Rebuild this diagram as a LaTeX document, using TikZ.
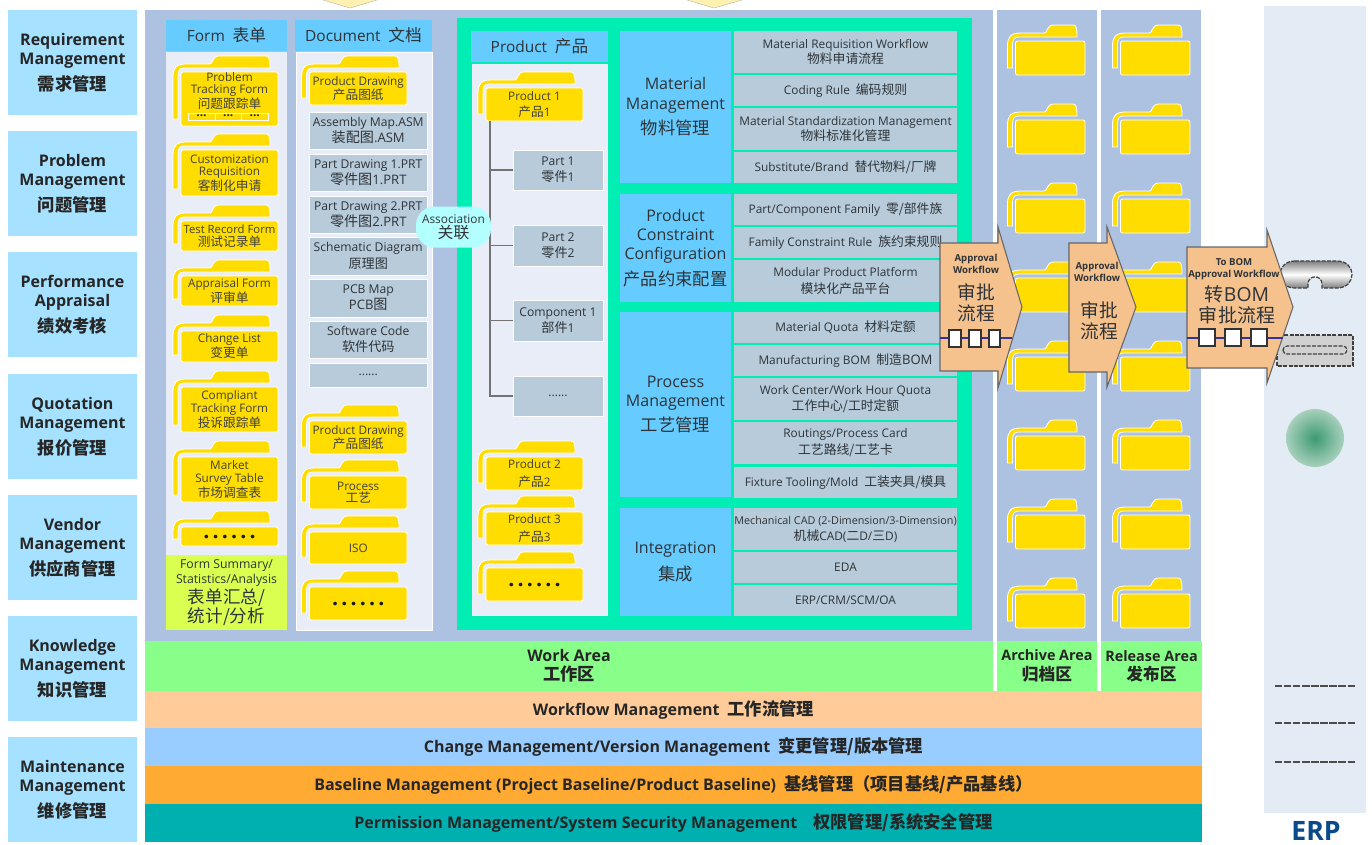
\documentclass[tikz,border=0pt]{standalone}
\usepackage{fontspec}
\setmainfont{Open Sans}
\newfontfamily\cjk[Scale=1.08]{Noto Sans CJK SC}
\newcommand{\zh}[1]{{\cjk #1}}
\newcommand{\fsz}[2]{\fontsize{#1}{#2}\selectfont}
\definecolor{sidec}{HTML}{A6E1FF}
\definecolor{panelc}{HTML}{ADC1E1}
\definecolor{lightc}{HTML}{E8EDF7}
\definecolor{headc}{HTML}{66CCFF}
\definecolor{greenf}{HTML}{00EEB4}
\definecolor{itemc}{HTML}{B7CBDA}
\definecolor{foldc}{HTML}{FFDD00}
\definecolor{limec}{HTML}{D9FF50}
\definecolor{workc}{HTML}{88FF88}
\definecolor{peachc}{HTML}{FFCC99}
\definecolor{bluec}{HTML}{99CCFF}
\definecolor{orangec}{HTML}{FFAA33}
\definecolor{tealc}{HTML}{00AFAF}
\definecolor{arrowc}{HTML}{F5C28E}
\definecolor{erpc}{HTML}{E3EBF5}
\definecolor{txt}{HTML}{2E3338}
\definecolor{tipc}{HTML}{FFF2B0}
\definecolor{assoc}{HTML}{B3FFFF}
\tikzset{
  bxbase/.style={inner sep=0pt,outer sep=0pt,align=center,text=txt},
  sidebox/.style={bxbase,fill=sidec,font=\fsz{12}{14.3}\bfseries,text=black!85},
  headbox/.style={bxbase,fill=headc,font=\fsz{11.6}{14}},
  grayitem/.style={bxbase,fill=itemc,font=\fsz{8.9}{10.6}},
  docitem/.style={bxbase,fill=itemc,draw=white,line width=.4pt,font=\fsz{9.1}{12.2}},
  catbox/.style={bxbase,fill=headc,font=\fsz{12}{14.3}},
  lane/.style={bxbase,font=\fsz{12}{14.4}\bfseries,text=black!85},
  arealane/.style={bxbase,fill=workc,font=\fsz{10.8}{14.4}\bfseries,text=black!85},
  panel/.style={bxbase,fill=panelc},
  pale/.style={bxbase,fill=lightc,draw=white,line width=.4pt},
  folderfront/.style={bxbase,fill=foldc,draw=white,line width=.6pt,rounded corners=1.5pt,font=\fsz{8.8}{9.4},text=black!75},
  folderback/.style={fill=foldc,draw=white,line width=.6pt},
  flow/.style={fill=arrowc,draw=black!60,line width=.8pt},
  stepcell/.style={bxbase,fill=white,draw=black!80,line width=.8pt},
  flowline/.style={draw=blue!50!black!80,line width=.8pt},
  treeline/.style={draw=black!55,line width=1.1pt},
  minicell/.style={bxbase,fill=foldc,draw=white,line width=.6pt,font=\fsz{9}{8}\bfseries,text=black!85},
}
\newcommand{\bx}[7]{\node[#1,minimum width={(#5-#3)*0.75pt},minimum height={(#6-#4)*0.75pt}] (#2) at ({(#3+#5)/2},{(#4+#6)/2}) {#7};}
\newcommand{\folder}[6]{%
  \draw[folderback] ({#2-8},{#5-7}) -- ({#2-8},{#3+5}) .. controls ({#2-8},{#3-4}) and ({#2-5},{#3-8}) .. ({#2+5},{#3-8}) -- ({#2+29},{#3-8}) .. controls ({#2+32},{#3-8}) and ({#2+31},{#3-16}) .. ({#2+38},{#3-16}) -- ({#4-12},{#3-16}) .. controls ({#4-9},{#3-16}) and ({#4-8},{#3-14}) .. ({#4-8},{#3-4}) -- ({#2+3},{#3-4}) .. controls ({#2-2},{#3-4}) and ({#2-3},{#3-1}) .. ({#2-3},{#3+5}) -- ({#2-3},{#5-7}) -- cycle;
  \bx{folderfront}{#1}{#2}{#3}{#4}{#5}{#6}}
\newcommand{\bigdots}{{\fsz{16}{15}\bfseries\color{black!90}.\kern2.4pt.\kern2.4pt.\kern2.4pt.\kern2.4pt.\kern2.4pt.}}
\begin{document}
\begin{tikzpicture}[x=0.75pt,y=-0.75pt]
\useasboundingbox (0,0) rectangle (1372,844);
% arrow tips at the top
\draw[fill=tipc,draw=black!25,line width=.4pt] (323,0) -- (350,8) -- (377,0);
\draw[fill=tipc,draw=black!25,line width=.4pt] (687,0) -- (714,8) -- (742,0);
% left column
\bx{sidebox}{s1}{8}{10}{137}{115}{Requirement\\Management\\[5pt]\zh{需求管理}}
\bx{sidebox}{s2}{8}{131}{137}{236}{Problem\\Management\\[5pt]\zh{问题管理}}
\bx{sidebox}{s3}{8}{252}{137}{357}{Performance\\Appraisal\\[5pt]\zh{绩效考核}}
\bx{sidebox}{s4}{8}{374}{137}{479}{Quotation\\Management\\[5pt]\zh{报价管理}}
\bx{sidebox}{s5}{8}{495}{137}{600}{Vendor\\Management\\[5pt]\zh{供应商管理}}
\bx{sidebox}{s6}{8}{616}{137}{721}{Knowledge\\Management\\[5pt]\zh{知识管理}}
\bx{sidebox}{s7}{8}{737}{137}{842}{Maintenance\\Management\\[5pt]\zh{维修管理}}
% area panels
\bx{panel}{pw}{145}{10}{993}{641}{}
\bx{panel}{pa}{997}{10}{1097}{641}{}
\bx{panel}{pr}{1101}{10}{1201}{641}{}
% lanes
\bx{lane,fill=workc}{lw}{145}{641}{993}{691}{Work Area\\\zh{工作区}}
\bx{arealane}{la}{997}{641}{1097}{691}{Archive Area\\\fsz{11.6}{14.4}\zh{归档区}}
\bx{arealane}{lr}{1101}{641}{1202}{691}{Release Area\\\fsz{11.6}{14.4}\zh{发布区}}
\bx{lane,fill=peachc}{l1}{145}{691}{1202}{728}{Workflow Management\enspace\zh{工作流管理}}
\bx{lane,fill=bluec}{l2}{145}{728}{1202}{766}{Change Management/Version Management\enspace\zh{变更管理/版本管理}}
\bx{lane,fill=orangec}{l3}{145}{766}{1202}{804}{Baseline Management (Project Baseline/Product Baseline)\enspace\zh{基线管理（项目基线/产品基线）}}
\bx{lane,fill=tealc}{l4}{145}{804}{1202}{842}{Permission Management/System Security Management\quad\zh{权限管理/系统安全管理}}
% Form column
\bx{headbox}{hf}{166}{20}{287}{51}{Form\enspace\zh{表单}}
\bx{bxbase,fill=lightc}{cf}{166}{52}{287}{555}{}
\bx{bxbase,fill=limec,font=\fsz{9.2}{11.2}}{fsum}{166}{555}{287}{630}{Form Summary/\\Statistics/Analysis\\[1pt]\fsz{12.2}{15.5}\zh{表单汇总/}\\\fsz{12.2}{15.5}\zh{统计/分析}}
\folder{f1}{181}{72}{278}{126}{}
\node[bxbase,font=\fsz{8.8}{9.1},text=black!75] (f1t) at (229.5,91) {Problem\\Tracking Form\\[.5pt]\zh{问题跟踪单}};
\bx{minicell}{m1}{188}{113.5}{215}{120}{\raisebox{1.5pt}{...}}
\bx{minicell}{m2}{215}{113.5}{241.5}{120}{\raisebox{1.5pt}{...}}
\bx{minicell}{m3}{241.5}{113.5}{268}{120}{\raisebox{1.5pt}{...}}
\folder{f2}{181}{150}{278}{196}{Customization\\Requisition\\\zh{客制化申请}}
\folder{f3}{181}{221}{278}{251}{{\fsz{8.5}{9.4}Test Record Form}\\\zh{测试记录单}}
\folder{f4}{181}{276}{278}{306}{Appraisal Form\\\zh{评审单}}
\folder{f5}{181}{331}{278}{362}{Change List\\\zh{变更单}}
\folder{f6}{181}{387}{278}{432}{Compliant\\Tracking Form\\\zh{投诉跟踪单}}
\folder{f7}{181}{457}{278}{502}{Market\\Survey Table\\\zh{市场调查表}}
\folder{f8}{181}{527}{278}{546}{\bigdots}
% Document column
\bx{headbox}{hd}{295}{20}{432}{51}{Document\enspace\zh{文档}}
\bx{pale}{cd}{296}{52}{432}{630}{}
\folder{d1}{309.5}{72}{407}{105}{Product Drawing\\\zh{产品图纸}}
\bx{docitem}{g1}{309.5}{112}{427}{149}{Assembly Map.ASM\\\fsz{9.8}{12.2}\zh{装配图}.ASM}
\bx{docitem}{g2}{309.5}{154}{427}{191}{Part Drawing 1.PRT\\\fsz{9.8}{12.2}\zh{零件图}1.PRT}
\bx{docitem}{g3}{309.5}{196}{427}{233}{Part Drawing 2.PRT\\\fsz{9.8}{12.2}\zh{零件图}2.PRT}
\bx{docitem}{g4}{309.5}{237}{427}{275}{Schematic Diagram\\\zh{原理图}}
\bx{docitem}{g5}{309.5}{279}{427}{317}{PCB Map\\\fsz{9.8}{12.2}PCB\zh{图}}
\bx{docitem}{g6}{309.5}{321}{427}{358}{Software Code\\\zh{软件代码}}
\bx{docitem}{g7}{309.5}{363}{427}{387}{......}
\folder{d2}{309.5}{421}{407}{454}{Product Drawing\\\zh{产品图纸}}
\folder{d3}{309.5}{476}{407}{509}{Process\\\zh{工艺}}
\folder{d4}{309.5}{532}{407}{564}{ISO}
\folder{d5}{309.5}{587}{407}{620}{\bigdots}
% Green frame
\bx{bxbase,fill=greenf}{frame}{457}{18}{972}{630}{}
\bx{headbox}{hp}{471}{31}{608}{62}{Product\enspace\zh{产品}}
\bx{bxbase,fill=lightc}{cp}{472}{64}{608}{616}{}
\bx{docitem}{q1}{513}{150}{603}{190}{Part 1\\\zh{零件}1}
\bx{docitem}{q2}{513}{225}{603}{266}{Part 2\\\zh{零件}2}
\bx{docitem}{q3}{513}{300}{603}{341}{Component 1\\\zh{部件}1}
\bx{docitem}{q4}{513}{376}{603}{416}{......}
\folder{p1}{486}{88}{583}{121}{Product 1\\[2.5pt]\zh{产品}1}
\coordinate (treetop) at (490,121);
\draw[treeline] (treetop) |- (q4.west);
\draw[treeline] (treetop |- q1.west) -- (q1.west);
\draw[treeline] (treetop |- q2.west) -- (q2.west);
\draw[treeline] (treetop |- q3.west) -- (q3.west);
\folder{p2}{486}{457}{583}{490}{Product 2\\[3.5pt]\zh{产品}2}
\folder{p3}{486}{512}{583}{545}{Product 3\\[3.5pt]\zh{产品}3}
\folder{p4}{486}{568}{583}{601}{\bigdots}
% Category blocks
\bx{catbox}{c1}{620}{31}{731}{183}{Material\\Management\\[5pt]\zh{物料管理}}
\bx{catbox}{c2}{620}{194}{731}{302}{Product\\Constraint\\Configuration\\[5pt]\zh{产品约束配置}}
\bx{catbox}{c3}{620}{312}{731}{497}{Process\\Management\\[5pt]\zh{工艺管理}}
\bx{catbox}{c4}{620}{508}{731}{616}{Integration\\[6pt]\zh{集成}}
\bx{grayitem}{i1}{734}{31}{957}{73}{Material Requisition Workflow\\\zh{物料申请流程}}
\bx{grayitem}{i2}{734}{75}{957}{106}{Coding Rule\enspace\zh{编码规则}}
\bx{grayitem}{i3}{734}{108}{957}{150}{Material Standardization Management\\\zh{物料标准化管理}}
\bx{grayitem}{i4}{734}{152}{957}{183}{Substitute/Brand\enspace\zh{替代物料/厂牌}}
\bx{grayitem}{i5}{734}{194}{957}{225}{Part/Component Family\enspace\zh{零/部件族}}
\bx{grayitem}{i6}{734}{227}{957}{258}{Family Constraint Rule\enspace\zh{族约束规则}}
\bx{grayitem}{i7}{734}{260}{957}{302}{Modular Product Platform\\[1.5pt]\zh{模块化产品平台}}
\bx{grayitem}{i8}{734}{312}{957}{343}{Material Quota\enspace\zh{材料定额}}
\bx{grayitem}{i9}{734}{345}{957}{376}{Manufacturing BOM\enspace\zh{制造}{\fsz{9.8}{10}BOM}}
\bx{grayitem}{i10}{734}{378}{957}{420}{Work Center/Work Hour Quota\\[1.5pt]\zh{工作中心/工时定额}}
\bx{grayitem}{i11}{734}{422}{957}{464}{Routings/Process Card\\[2pt]\zh{工艺路线/工艺卡}}
\bx{grayitem}{i12}{734}{467}{957}{498}{Fixture Tooling/Mold\enspace\zh{工装夹具/模具}}
\bx{grayitem}{i13}{734}{508}{957}{550}{{\fsz{8.1}{10.6}Mechanical CAD (2-Dimension/3-Dimension)}\\[1.5pt]\zh{机械}CAD(\zh{二}D/\zh{三}D)}
\bx{grayitem}{i14}{734}{552}{957}{583}{EDA}
\bx{grayitem}{i15}{734}{585}{957}{616}{ERP/CRM/SCM/OA}
% Association bubble
\node[bxbase,fill=assoc,minimum width=56.25pt,minimum height=30.75pt,rounded corners=14pt,font=\fsz{8.9}{9.6}] (assoc) at (453.5,227) {Association\\\fsz{11}{11}\zh{关联}};
% Archive and release folders
\foreach \yy/\nn in {41/1,120/2,199/3,278/4,357/5,436/6,515/7,594/8}{
  \folder{ar\nn}{1015.5}{\yy}{1085}{\yy+34}{}
  \folder{re\nn}{1120.5}{\yy}{1190}{\yy+34}{}
}
% ERP column
\bx{bxbase,fill=erpc}{erp}{1264}{6}{1366}{813}{}
\node[bxbase,font=\fsz{20}{20}\bfseries,text={rgb,255:red,11;green,74;blue,138}] (erpt) at (1316,830.5) {ERP};
\path[draw=black!75,line width=.9pt,dash pattern=on 3pt off 1pt,top color=black!50,bottom color=black!50,middle color=white]
  (1295,261) -- (1337,261) .. controls (1357,261) and (1357,288) .. (1337,288) -- (1322,288) -- (1322,284) .. controls (1322,274.5) and (1308,274.5) .. (1308,284) -- (1308,288) -- (1295,288) .. controls (1275,288) and (1275,261) .. (1295,261) -- cycle;
\draw[fill=black!18,draw=black!75,line width=.9pt,dash pattern=on 3pt off 1pt] (1277,335) rectangle (1353,366);
\draw[draw=black!75,line width=.9pt,dash pattern=on 3pt off 1pt,rounded corners=3pt] (1283,346) rectangle (1347,354);
\shade[inner color={rgb,255:red,60;green,154;blue,114},outer color={rgb,255:red,168;green,208;blue,188}] (1315,438) circle[radius=29];
\coordinate (e1a) at (1275,686); \coordinate (e1b) at (1355,686);
\coordinate (e2a) at (1275,723); \coordinate (e2b) at (1355,723);
\coordinate (e3a) at (1275,762); \coordinate (e3b) at (1355,762);
\draw[black!70,line width=.9pt,dash pattern=on 5.5pt off 1.3pt] (e1a) -- (e1b);
\draw[black!70,line width=.9pt,dash pattern=on 5.5pt off 1.3pt] (e2a) -- (e2b);
\draw[black!70,line width=.9pt,dash pattern=on 5.5pt off 1.3pt] (e3a) -- (e3b);
% Arrow 1
\draw[flow] (940,243) -- (998,243) -- (998,227) -- (1022,307) -- (998,388) -- (998,371) -- (940,371) -- cycle;
\coordinate (w1a) at (940,338); \coordinate (w1b) at (1012,338);
\draw[flowline] (w1a) -- (w1b);
\bx{stepcell}{a1}{949}{330}{961}{347}{}
\bx{stepcell}{a2}{969}{330}{981}{347}{}
\bx{stepcell}{a3}{989}{330}{1000}{347}{}
\node[bxbase,font=\fsz{7.2}{9}\bfseries] (a1e) at (976,264) {Approval\\Workflow};
\node[bxbase,font=\fsz{13}{16}] (a1z) at (976,302.5) {\zh{审批}\\\zh{流程}};
% Arrow 2
\draw[flow] (1069,243) -- (1107,243) -- (1107,227) -- (1136,307) -- (1107,387) -- (1107,372) -- (1069,372) -- cycle;
\node[bxbase,font=\fsz{7.2}{9}\bfseries] (a2e) at (1097,272) {Approval\\Workflow};
\node[bxbase,font=\fsz{13}{16}] (a2z) at (1099,321) {\zh{审批}\\\zh{流程}};
% Arrow 3
\draw[flow] (1187,247) -- (1267,247) -- (1267,230) -- (1293,307) -- (1267,383) -- (1267,368) -- (1187,368) -- cycle;
\coordinate (w3a) at (1187,338); \coordinate (w3b) at (1283,338);
\draw[flowline] (w3a) -- (w3b);
\bx{stepcell}{b1}{1199}{329}{1215}{346}{}
\bx{stepcell}{b2}{1225}{329}{1241}{346}{}
\bx{stepcell}{b3}{1251}{329}{1267}{346}{}
\node[bxbase,font=\fsz{7.2}{9}\bfseries] (a3e) at (1234,269) {To BOM\\Approval Workflow};
\node[bxbase,font=\fsz{13.2}{16}] (a3z) at (1237,305) {\zh{转}{\fsz{14.5}{16}BOM}\\\zh{审批流程}};
\end{tikzpicture}
\end{document}
